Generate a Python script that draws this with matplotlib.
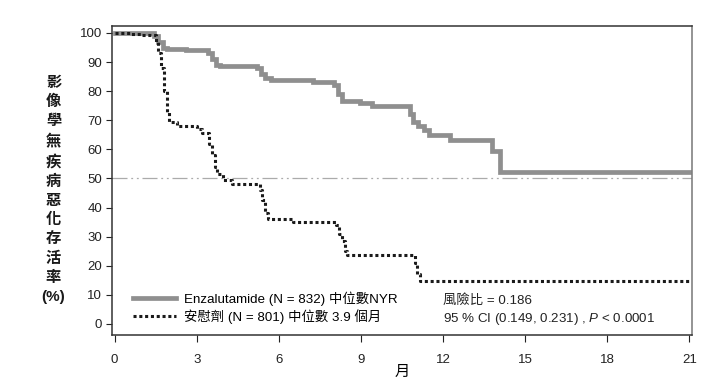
import matplotlib
matplotlib.use("Agg")
import matplotlib.pyplot as plt
from matplotlib.lines import Line2D

plt.rcParams['font.family'] = ['Liberation Sans', 'Noto Sans CJK TC', 'DejaVu Sans']
plt.rcParams['mathtext.fontset'] = 'custom'
plt.rcParams['mathtext.rm'] = 'Liberation Sans'
plt.rcParams['mathtext.it'] = 'Liberation Sans:italic'

# Kaplan-Meier estimates (months, % free of radiographic progression)
enza_t = [0, 1.45, 1.6, 1.75, 1.9, 2.6, 3.4, 3.55, 3.7, 3.85, 5.2, 5.35, 5.5, 5.7,
          7.25, 8.0, 8.15, 8.3, 8.96, 9.4, 10.8, 10.9, 11.1, 11.3, 11.5, 12.25,
          13.8, 14.08, 21.0]
enza_s = [100, 99, 97, 95, 94.5, 94, 93, 91, 89, 88.7, 88, 86, 84.5, 84,
          83.2, 82, 79, 76.6, 76, 75, 72, 69.5, 68, 66.5, 65, 63.2,
          59.5, 52.2, 52.2]

plac_t = [0, 0.55, 1.0, 1.5, 1.6, 1.7, 1.8, 1.9, 2.0, 2.26, 3.0, 3.2, 3.45, 3.55,
          3.65, 3.75, 3.96, 4.3, 5.3, 5.4, 5.5, 5.6, 6.5, 8.1, 8.2, 8.3, 8.4, 8.5,
          10.97, 11.05, 11.15, 21.0]
plac_s = [100, 99.5, 99.2, 97, 93, 88, 80, 73, 69.5, 68, 67, 65.6, 62, 58,
          54, 51.5, 49.5, 48, 46, 42.6, 38, 36, 35, 34, 31, 28.5, 25, 23.7,
          21, 17, 14.6, 14.6]

median_level = 50
x_ticks = [0, 3, 6, 9, 12, 15, 18, 21]
y_ticks = [0, 10, 20, 30, 40, 50, 60, 70, 80, 90, 100]

enza_label = "Enzalutamide (N = 832) 中位數NYR"
plac_label = "安慰劑 (N = 801) 中位數 3.9 個月"
hr_text = "風險比 = 0.186"
ci_text = "95 % CI (0.149, 0.231) , $\\mathit{P}$ < 0.0001"
ylabel_chars = list("影像學無疾病惡化存活率") + ["(%)"]

fig = plt.figure(figsize=(7.04, 3.84), dpi=100)
ax = fig.add_axes([0.159, 0.1276, 0.824, 0.8047])

gray = '#8f8f8f'
ax.axhline(median_level, color='#ababab', lw=0.9,
           dashes=(12, 3, 1.5, 3, 1.5, 3), zorder=1)
ax.plot(enza_t, enza_s, drawstyle='steps-post', color=gray, lw=3.4,
        solid_joinstyle='miter', zorder=2)
ax.plot(plac_t, plac_s, drawstyle='steps-post', color='#1a1a1a', lw=2.2,
        dashes=(1, 0.9), dash_capstyle='butt', zorder=3)

ax.set_xlim(-0.1, 21.1)
ax.set_ylim(-3.8, 102.4)
ax.set_xticks(x_ticks)
ax.set_yticks(y_ticks)
ax.tick_params(axis='both', direction='out', labelsize=9.5, colors='#222222')
ax.tick_params(axis='x', length=5, pad=9)
ax.tick_params(axis='y', length=4, pad=3)
for side in ['left', 'bottom', 'top', 'right']:
    ax.spines[side].set_color('#333333')
    ax.spines[side].set_linewidth(1.1)
ax.spines['right'].set_color('#777777')

ax.set_xlabel("月", fontsize=11, labelpad=-1)

handles = [Line2D([], [], color=gray, lw=3.4),
           Line2D([], [], color='#1a1a1a', lw=2.2, dashes=(1, 0.9), dash_capstyle='butt')]
ax.legend(handles, [enza_label, plac_label], loc='lower left',
          bbox_to_anchor=(0.02, 0.005), frameon=False, fontsize=9.6,
          handlelength=3.2, handletextpad=0.6, labelspacing=0.25,
          borderpad=0.2)

ax.text(0.570, 0.113, hr_text, transform=ax.transAxes, fontsize=9.6,
        va='center', ha='left', color='#222222')
ax.text(0.570, 0.051, ci_text, transform=ax.transAxes, fontsize=9.6,
        va='center', ha='left', color='#222222')

fig.text(0.076, 0.505, "\n".join(ylabel_chars), fontsize=11, ha='center',
         va='center', linespacing=1.46, color='#1a1a1a', fontweight='bold')

fig.savefig("out.png", dpi=100)
